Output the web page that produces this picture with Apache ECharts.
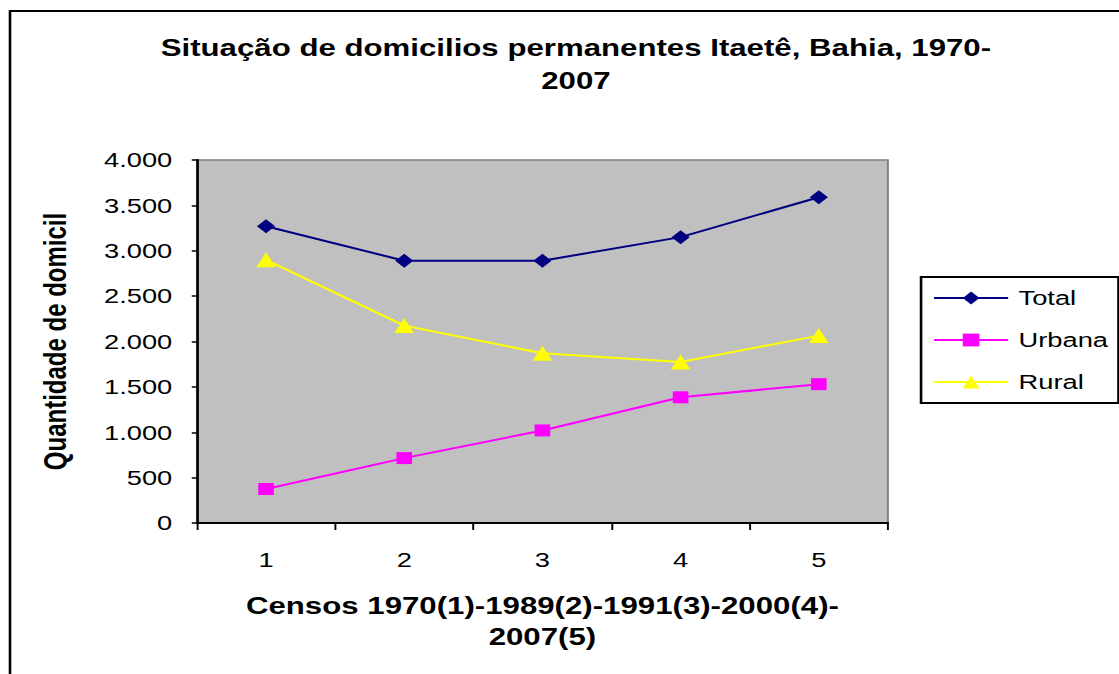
<!DOCTYPE html>
<html>
<head>
<meta charset="utf-8">
<script src="https://cdn.jsdelivr.net/npm/echarts@6/dist/echarts.min.js"></script>
<style>
  html, body { margin: 0; padding: 0; background: #fff; overflow: hidden; }
  /* the reference picture is stretched sideways, so the chart is too */
  #main { width: 861px; height: 674px; transform: scaleX(1.3); transform-origin: 0 0; }
</style>
</head>
<body>
<div id="main"></div>
<script>
// dados
var censos = ['1', '2', '3', '4', '5'];
var total = [3270, 2890, 2890, 3150, 3590];
var urbana = [375, 715, 1020, 1385, 1530];
var rural = [2900, 2175, 1870, 1775, 2065];
var yTicks = [0, 500, 1000, 1500, 2000, 2500, 3000, 3500, 4000];

var fonte = 'Liberation Sans, Arial, sans-serif';

function milhar(v) {
  return String(v).replace(/\B(?=(\d{3})+(?!\d))/g, '.');
}

var myChart = echarts.init(document.getElementById('main'), null, { renderer: 'svg' });

var option = {
  backgroundColor: '#fff',
  animation: false,
  graphic: [
    {
      // moldura externa
      type: 'rect',
      silent: true,
      shape: { x: 7.7, y: 11, width: 900, height: 700 },
      style: { fill: 'none', stroke: '#000', lineWidth: 2 }
    },
    {
      type: 'text',
      silent: true,
      x: 443,
      y: 31,
      style: {
        text: 'Situação de domicilios permanentes Itaetê, Bahia, 1970-\n2007',
        fontFamily: fonte,
        fontSize: 24,
        fontWeight: 'bold',
        lineHeight: 33,
        align: 'center',
        verticalAlign: 'top',
        fill: '#000'
      }
    }
  ],
  legend: {
    orient: 'vertical',
    left: 708.5,
    top: 277,
    padding: [10, 8, 10, 9],
    itemWidth: 57,
    itemHeight: 16,
    itemGap: 20,
    borderColor: '#000',
    borderWidth: 2,
    textStyle: {
      fontFamily: fonte,
      fontSize: 21,
      lineHeight: 22,
      color: '#000',
      padding: [0, 0, 0, 3]
    },
    data: ['Total', 'Urbana', 'Rural']
  },
  grid: {
    left: 151.5,
    right: 178,
    top: 160,
    bottom: 151,
    show: true,
    backgroundColor: '#C0C0C0',
    borderColor: '#808080',
    borderWidth: 1.5
  },
  xAxis: {
    type: 'category',
    boundaryGap: true,
    data: censos,
    name: 'Censos 1970(1)-1989(2)-1991(3)-2000(4)-\n2007(5)',
    nameLocation: 'middle',
    nameGap: 67,
    nameTextStyle: {
      fontFamily: fonte,
      fontSize: 24,
      fontWeight: 'bold',
      lineHeight: 31,
      color: '#000'
    },
    axisLine: { lineStyle: { color: '#000', width: 2 } },
    axisTick: { show: true, length: 7, lineStyle: { color: '#000', width: 1.5 } },
    axisLabel: {
      margin: 26,
      fontFamily: fonte,
      fontSize: 21,
      color: '#000'
    },
    splitLine: { show: false }
  },
  yAxis: {
    type: 'value',
    min: yTicks[0],
    max: yTicks[yTicks.length - 1],
    interval: 500,
    name: 'Quantidade de domicil',
    nameLocation: 'middle',
    nameRotate: 90,
    nameGap: 97,
    nameTextStyle: {
      fontFamily: fonte,
      fontSize: 24,
      fontWeight: 'bold',
      lineHeight: 24,
      color: '#000'
    },
    axisLine: { show: true, lineStyle: { color: '#000', width: 2 } },
    axisTick: { show: true, length: 4, lineStyle: { color: '#000', width: 1.5 } },
    axisLabel: {
      margin: 19,
      fontFamily: fonte,
      fontSize: 21,
      color: '#000',
      formatter: function (v) { return milhar(v); }
    },
    splitLine: { show: false }
  },
  series: [
    {
      name: 'Total',
      type: 'line',
      data: total,
      symbol: 'diamond',
      symbolSize: 14,
      itemStyle: { color: '#000080' },
      lineStyle: { color: '#000080', width: 2 }
    },
    {
      name: 'Urbana',
      type: 'line',
      data: urbana,
      symbol: 'rect',
      symbolSize: 12,
      itemStyle: { color: '#FF00FF' },
      lineStyle: { color: '#FF00FF', width: 2 }
    },
    {
      name: 'Rural',
      type: 'line',
      data: rural,
      symbol: 'triangle',
      symbolSize: 15,
      itemStyle: { color: '#FFFF00' },
      lineStyle: { color: '#FFFF00', width: 2 }
    }
  ]
};

myChart.setOption(option);
</script>
</body>
</html>
